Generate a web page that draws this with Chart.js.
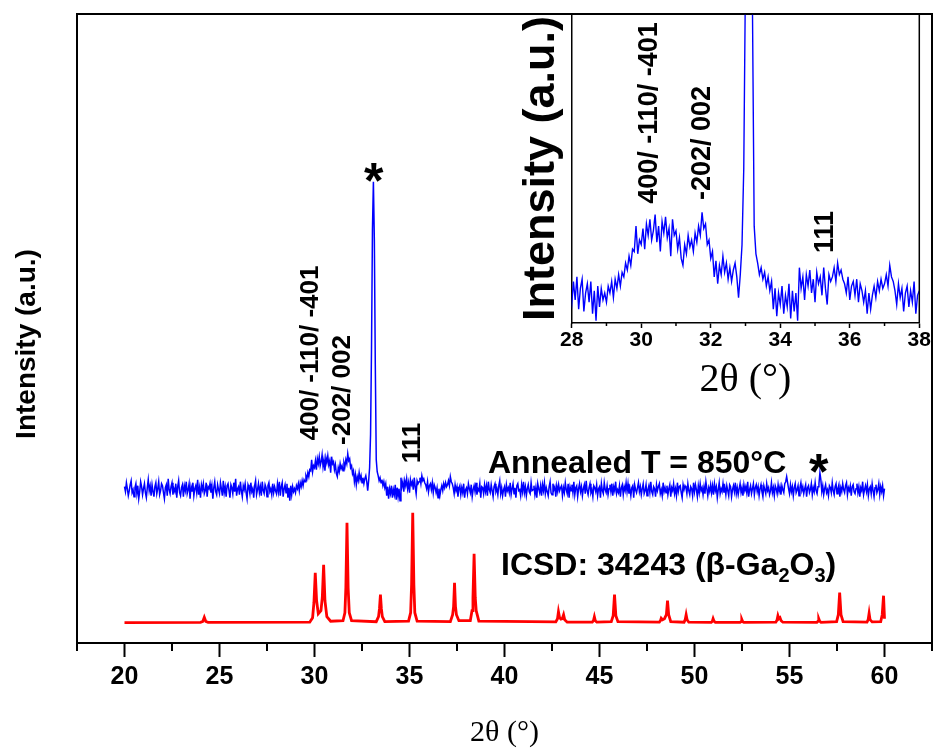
<!DOCTYPE html>
<html>
<head>
<meta charset="utf-8">
<script src="https://cdn.jsdelivr.net/npm/chart.js@4.4.0/dist/chart.umd.min.js"></script>
<style>
  html, body { margin: 0; padding: 0; background: #fff; }
  #wrap { position: relative; width: 933px; height: 748px; }
  #main { position: absolute; left: 0; top: 0; }
  #inset { position: absolute; left: 500px; top: 0; }
</style>
</head>
<body>
<div id="wrap">
  <canvas id="main" width="933" height="748"></canvas>
  <canvas id="inset" width="433" height="420"></canvas>
</div>
<script>
// measured pattern, annealed film (arbitrary units, baseline ~ 0)
// part A: 20.00 - 27.95 deg, step 0.05
const blueStartA = 20.0, blueStepA = 0.05;
const blueCountsA = [
  3,-2,7,1,-6,-1,5,9,-3,0,  -7,2,6,-4,4,-9,-2,8,3,-5,
  1,6,-3,-8,2,10,-1,4,-6,5,  -2,-7,3,7,-4,1,8,-5,-1,6,
  4,-3,-9,2,5,-6,11,0,-4,3,  7,-5,1,-2,6,-8,3,9,-3,-6,
  2,5,-7,4,-1,8,-4,0,6,-9,  3,-2,7,-6,1,4,-3,10,-5,2,
  -8,5,0,6,-4,-1,7,-7,3,1,  6,-3,4,-9,2,8,-2,-5,5,0,
  -4,7,1,-6,9,-3,3,-7,4,6,  -1,-8,5,2,-4,7,-2,11,-6,1,
  3,-5,8,-1,-7,4,0,6,-3,-9,  5,2,-4,7,-2,1,-8,4,9,-5,
  0,6,-3,3,-6,8,-1,-4,5,2,  -7,4,7,-2,1,-5,6,-3,3,-1];
// part B: 28.00 - 37.95 deg, step 0.05 (also shown in the inset)
const blueStartB = 28.0, blueStepB = 0.05;
const blueCountsB = [-4,6,-2,8,-6,3,7,-7,1,5,-3,6,-8,2,-11,4,-5,3,-2,1,
  -3,4,1,6,-1,7,3,9,4,10,
  8,14,11,17,13,20,
  19,30,18,24,
  22,29,20,31,26,33,24,28,35,23,30,19,32,27,34,25,29,17,33,26,
  28,20,25,16,13,22,18,26,21,24,
  19,27,23,30,26,36,29,
  31,22,24,16,19,
  8,15,5,13,9,17,10,14,
  7,12,6,11,14,8,-1,
  9,22,55,
  140,260,308,250,125,
  30,18,14,9,12,
  7,10,4,8,2,6,
  -6,3,-9,1,-4,4,-8,0,-5,5,-10,2,-7,1,
  -11,12,3,8,-2,9,4,11,1,7,-3,10,5,8,0,12,3,-4,9,6,
  8,12,6,14,9,11,7,
  5,1,8,-2,4,6,0,7,-3,5,2,
  -3,2,-8,1,-6,0,
  4,-1,6,2,7,3,
  5,9,4,13,8,6,
  2,-4,5,-1,3,-7,1,4,-5,2,-3,6,-8,0];
// part C: 38.00 - 60.00 deg, step 0.05
const blueStartC = 38.0, blueStepC = 0.05;
const blueCountsC = [
  2,-4,6,1,-3,5,-7,0,4,-2,  7,-5,1,-1,6,-8,3,2,-4,5,
  -2,4,-6,8,0,-3,5,-1,-7,3,  6,-2,1,-5,4,9,-4,2,-6,0,
  3,-7,5,-1,2,-3,7,-5,1,6,  -4,2,-8,4,6,-1,0,-6,5,-2,
  8,-3,3,-6,1,5,-2,-4,7,-1,  0,4,-5,2,-8,6,1,-3,4,-6,
  5,-1,7,-4,2,-2,-6,3,8,-3,  -5,6,0,3,-7,4,-2,5,-1,2,
  4,-6,2,-3,7,0,-4,6,-8,3,  -1,5,-3,8,-5,2,4,-7,1,6,
  -2,3,-6,1,5,-4,9,-1,-5,2,  6,-3,0,-7,4,2,-2,5,-6,1,
  3,-8,6,-1,-4,7,0,-3,4,-5,  1,5,-2,6,-6,3,-1,8,-4,0,
  -3,4,-7,2,5,-5,3,-1,7,-2,  6,-4,1,-6,2,4,-8,5,0,-3,
  2,7,-2,3,-5,1,6,-4,-1,5,  -6,0,4,-3,8,-2,-5,3,1,-7,
  5,-1,3,6,-4,0,-6,7,-2,2,  -3,4,-5,1,5,-7,2,-1,6,-4,
  1,-6,7,-2,3,4,-3,-8,5,0,  4,2,-4,6,-1,-5,3,1,-6,7,
  -2,5,0,-7,4,-3,6,-1,2,-5,  3,-4,8,1,-6,2,-2,5,-3,4,
  -5,6,-1,3,-8,0,7,-4,1,-2,  6,-3,2,-5,4,-1,-6,5,3,-7,
  0,4,-2,7,-4,2,-5,1,6,-3,  2,-6,5,-1,3,-3,8,-7,0,4,
  -4,1,6,-5,2,5,-2,3,-6,1,  5,-2,-7,4,0,-4,6,-1,2,-5,
  -1,7,-3,2,-6,4,1,-4,5,-2,  3,-5,4,0,-3,6,8,13,7,1,
  -4,5,-2,3,-6,2,6,-3,0,4,  -6,2,7,-1,3,-4,1,5,-7,2,
  4,-3,0,6,-5,2,-2,7,-1,-4,  3,6,17,10,-2,4,-5,1,5,-3,
  0,-6,4,2,-3,7,-1,-5,3,6,  -4,1,5,-7,2,-2,6,0,-3,4,
  7,-5,2,-1,4,-6,3,5,-2,-4,  1,6,-3,3,-7,2,-1,8,-5,0,
  4,-2,5,-6,1,3,-4,6,-1,-7,  2,5,-3,0,6,-5,3,-2,4,-6,
  1];
const blueOffset = 133;

// ICSD 34243 reference pattern (beta-Ga2O3)
const redAngle = [20.00,24.00,24.12,24.20,24.28,24.40,
  29.75,29.90,29.97,30.04,30.11,30.20,30.34,30.41,30.48,30.55,30.65,30.85,
  31.50,31.60,31.65,31.71,31.77,31.83,31.95,
  33.25,33.37,33.42,33.47,33.52,33.57,33.70,
  34.95,35.06,35.11,35.17,35.23,35.28,35.40,
  37.15,37.27,37.32,37.37,37.42,37.47,37.60,
  38.20,38.29,38.34,38.40,38.46,38.51,38.65,
  42.70,42.79,42.84,42.90,42.97,43.04,43.11,43.17,43.30,
  44.62,44.68,44.73,44.78,44.86,
  45.62,45.72,45.79,45.86,45.97,
  48.15,48.21,48.25,48.32,48.42,48.52,48.58,48.64,48.75,
  49.45,49.51,49.56,49.61,49.70,
  50.88,50.94,50.98,51.03,51.10,
  52.40,52.45,52.49,52.54,52.60,
  54.28,54.34,54.39,54.44,54.50,54.56,54.65,
  56.44,56.50,56.54,56.59,56.66,
  57.48,57.57,57.64,57.71,57.82,
  59.08,59.14,59.19,59.24,59.35,
  59.80,59.88,59.95,60.00];
const redCounts = [0,0.3,1.2,5.4,1.2,0.3,
  0.5,5,20,50,22,9,12,25,58,22,6,1.5,
  2,10,35,100,35,10,2,
  1,6,14,28,14,6,1,
  1.5,10,38,110,38,10,1.5,
  1,8,16,40,16,8,2,
  2,12,25,69,25,12,1.5,
  0.8,4,11,5,3.5,4,8,3,0.5,
  0.5,2,6,2,0.5,
  1,7,28,7,1,
  0.5,2,4.4,3,4,8,22,8,1,
  0.5,3,8,3,0.5,
  0.3,1.5,4,1.5,0.3,
  0.3,1,3.3,1,0.3,
  0.5,2.5,7,4,5,2,0.5,
  0.3,1.5,4,1.5,0.3,
  1,8,30,8,1,
  0.5,3,9.4,3,0.8,
  1,8,27,4];

const mainMajorTicks = [20, 25, 30, 35, 40, 45, 50, 55, 60];
const mainMinorTicks = [17.5, 22.5, 27.5, 32.5, 37.5, 42.5, 47.5, 52.5, 57.5, 62.5];
const insetMajorTicks = [28, 30, 32, 34, 36, 38];
const insetMinorTicks = [29, 31, 33, 35, 37];

const SANS = "'Liberation Sans', Arial, sans-serif";
const SERIF = "'Liberation Serif', 'Times New Roman', serif";

function seg(start, step, counts) {
  return counts.map((c, i) => ({ x: +(start + i * step).toFixed(2), y: c }));
}
const blueAll = [...seg(blueStartA, blueStepA, blueCountsA),
                 ...seg(blueStartB, blueStepB, blueCountsB),
                 ...seg(blueStartC, blueStepC, blueCountsC)];
const blueMain = blueAll.map(p => ({ x: p.x, y: p.y + blueOffset }));
const blueInset = blueAll.filter(p => p.x >= 27.9 && p.x <= 38.1);
const redPts = redAngle.map((a, i) => ({ x: a, y: redCounts[i] }));

// box top + right, and short minor ticks under the x axis
function boxPlugin(width, minors, minorLen) {
  return {
    id: 'box',
    afterDraw(chart) {
      const { ctx, chartArea: c } = chart;
      const s = chart.scales.x;
      ctx.save();
      ctx.strokeStyle = '#000';
      ctx.lineWidth = width;
      ctx.beginPath();
      ctx.moveTo(c.left, c.top);
      ctx.lineTo(c.right, c.top);
      ctx.lineTo(c.right, c.bottom);
      ctx.stroke();
      minors.forEach(v => {
        const px = s.getPixelForValue(v);
        ctx.beginPath();
        ctx.moveTo(px, s.top);
        ctx.lineTo(px, s.top + minorLen);
        ctx.stroke();
      });
      ctx.restore();
    }
  };
}

// peak labels and other notes
function notesPlugin(items) {
  return {
    id: 'notes',
    afterDraw(chart) {
      const ctx = chart.ctx, s = chart.scales.x;
      items.forEach(it => {
        ctx.save();
        ctx.fillStyle = '#000';
        const px = it.at !== undefined ? s.getPixelForValue(it.at) : it.px;
        ctx.translate(px, it.py);
        if (it.rot) ctx.rotate(-Math.PI / 2);
        ctx.textBaseline = it.base || 'middle';
        if (it.parts) {
          ctx.textAlign = 'left';
          let cx = 0;
          it.parts.forEach(p => {
            ctx.font = 'bold ' + (p.sub ? Math.round(it.size * 0.62) : it.size) + 'px ' + SANS;
            ctx.fillText(p.t, cx, p.sub ? it.size * 0.22 : 0);
            cx += ctx.measureText(p.t).width;
          });
        } else {
          ctx.font = it.font;
          ctx.textAlign = it.align || 'center';
          ctx.fillText(it.text, 0, 0);
        }
        ctx.restore();
      });
    }
  };
}

const mainNotes = [
  { text: 'Intensity (a.u.)', px: 27, py: 344, rot: true, font: 'bold 28px ' + SANS },
  { text: '*', at: 33.12, py: 198, font: 'bold 50px ' + SANS, base: 'alphabetic' },
  { text: '400/ -110/ -401', at: 29.82, py: 353, rot: true, font: 'bold 26px ' + SANS },
  { text: '-202/ 002', at: 31.5, py: 390, rot: true, font: 'bold 26px ' + SANS },
  { text: '111', at: 35.17, py: 443, rot: true, font: 'bold 26px ' + SANS },
  { text: 'Annealed T = 850\u00B0C', px: 488, py: 473, align: 'left', font: 'bold 32px ' + SANS, base: 'alphabetic' },
  { text: '*', at: 56.54, py: 489, font: 'bold 50px ' + SANS, base: 'alphabetic' },
  { px: 501, py: 575, size: 32, base: 'alphabetic',
    parts: [{ t: 'ICSD: 34243 (\u03B2-Ga' }, { t: '2', sub: true }, { t: 'O' }, { t: '3', sub: true }, { t: ')' }] }
];
const insetNotes = [
  { text: '400/ -110/ -401', at: 30.25, py: 113, rot: true, font: 'bold 27px ' + SANS },
  { text: '-202/ 002', at: 31.75, py: 143, rot: true, font: 'bold 27px ' + SANS },
  { text: '111', at: 35.29, py: 232, rot: true, font: 'bold 27px ' + SANS }
];

new Chart(document.getElementById('main'), {
  type: 'line',
  data: {
    datasets: [
      { data: blueMain, borderColor: '#0000ff', borderWidth: 1.5, pointRadius: 0, tension: 0 },
      { data: redPts, borderColor: '#ff0000', borderWidth: 2.8, pointRadius: 0, tension: 0 }
    ]
  },
  options: {
    responsive: false,
    animation: false,
    devicePixelRatio: 1,
    layout: { padding: { top: 14, right: 1, left: 0, bottom: 0 } },
    plugins: { legend: { display: false }, tooltip: { enabled: false } },
    scales: {
      x: {
        type: 'linear', min: 17.5, max: 62.5,
        afterBuildTicks: s => { s.ticks = mainMajorTicks.map(v => ({ value: v })); },
        afterFit: s => { s.height = 105; },
        grid: { display: true, drawOnChartArea: false, tickLength: 14, tickWidth: 2, tickColor: '#000' },
        border: { display: true, width: 2, color: '#000' },
        ticks: { color: '#000', padding: 5, maxRotation: 0, autoSkip: false,
                 font: { family: SANS, size: 25, weight: 'bold' } },
        title: { display: true, text: '2\u03B8 (\u00B0)', color: '#000',
                 font: { family: SERIF, size: 30, lineHeight: 1 }, padding: { top: 0, bottom: 0 } }
      },
      y: {
        min: -20.3, max: 608.7,
        afterFit: s => { s.width = 77; },
        grid: { display: false },
        border: { display: true, width: 2, color: '#000' },
        ticks: { display: false }
      }
    }
  },
  plugins: [boxPlugin(2, mainMinorTicks, 8), notesPlugin(mainNotes)]
});

new Chart(document.getElementById('inset'), {
  type: 'line',
  data: {
    datasets: [
      { data: blueInset, borderColor: '#0000ff', borderWidth: 1.4, pointRadius: 0, tension: 0 }
    ]
  },
  options: {
    responsive: false,
    animation: false,
    devicePixelRatio: 1,
    layout: { padding: { top: 14, right: 13.7, left: 0, bottom: 0 } },
    plugins: { legend: { display: false }, tooltip: { enabled: false } },
    scales: {
      x: {
        type: 'linear', min: 28, max: 38,
        afterBuildTicks: s => { s.ticks = insetMajorTicks.map(v => ({ value: v })); },
        afterFit: s => { s.height = 97; },
        grid: { display: true, drawOnChartArea: false, tickLength: 5, tickWidth: 1.5, tickColor: '#000' },
        border: { display: true, width: 1.5, color: '#000' },
        ticks: { color: '#000', padding: 0, maxRotation: 0, autoSkip: false,
                 font: { family: SANS, size: 21, weight: 'bold' } },
        title: { display: true, text: '2\u03B8 (\u00B0)', color: '#000',
                 font: { family: SERIF, size: 40, lineHeight: 1 }, padding: { top: 0, bottom: 20 } }
      },
      y: {
        min: -12, max: 122,
        afterFit: s => { s.width = 71.7; },
        grid: { display: false },
        border: { display: true, width: 1.5, color: '#000' },
        ticks: { display: false },
        title: { display: true, text: 'Intensity (a.u.)', color: '#000',
                 font: { family: SANS, size: 45, weight: 'bold', lineHeight: 1 }, padding: { top: 19, bottom: 0 } }
      }
    }
  },
  plugins: [boxPlugin(1.5, insetMinorTicks, 3), notesPlugin(insetNotes)]
});
</script>
</body>
</html>
